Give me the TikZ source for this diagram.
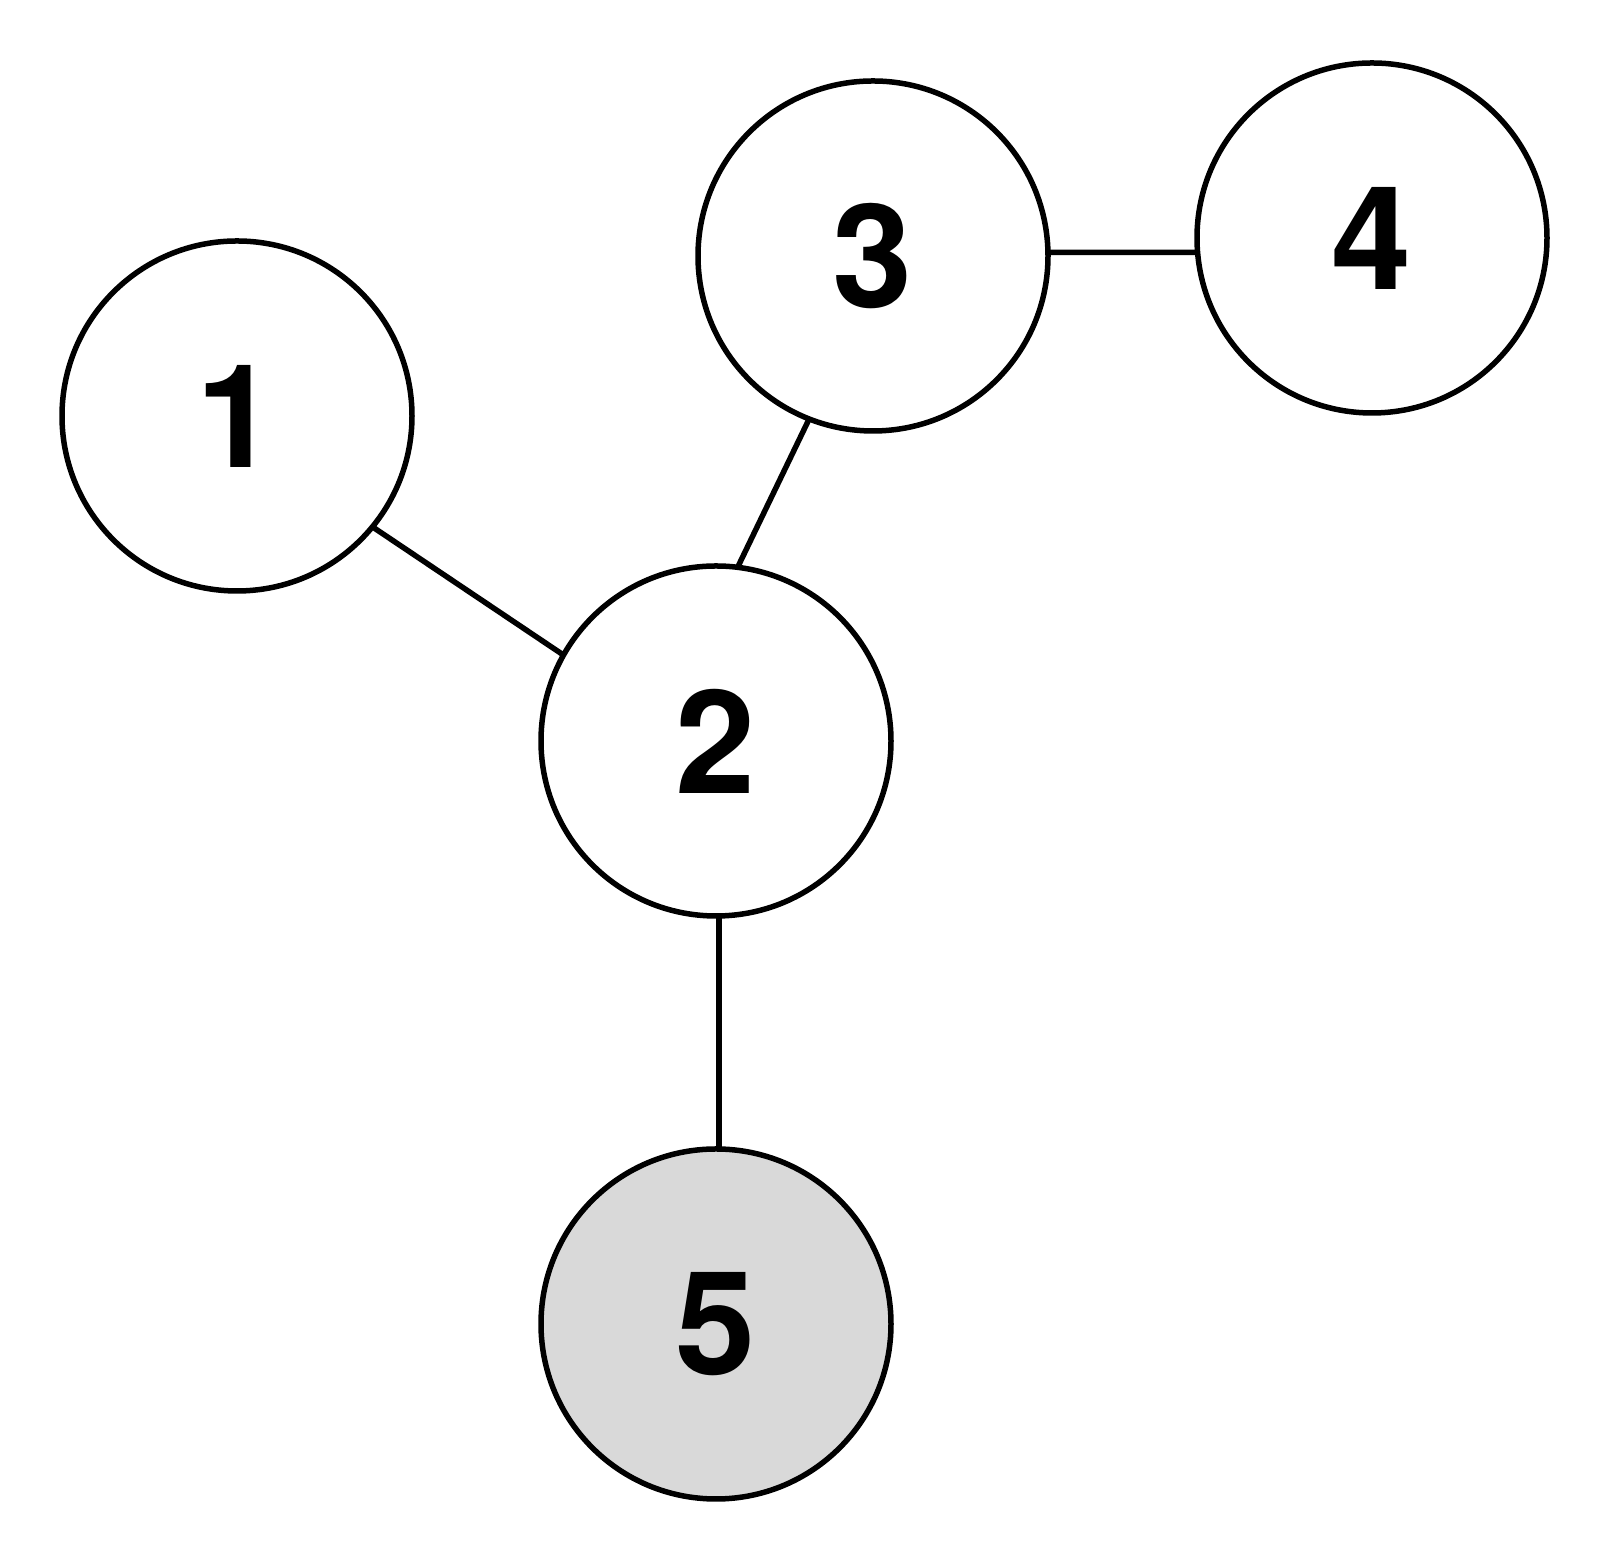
\documentclass[tikz,border=0pt]{standalone}
\usepackage{fontspec}
\setmainfont{TeX Gyre Heros}
\usetikzlibrary{calc}
\definecolor{nodegray}{HTML}{D9D9D9}
\begin{document}
\begin{tikzpicture}[x=1pt,y=1pt,
  vertex/.style={circle,draw=black,line width=5.5pt,minimum size=350pt,inner sep=0pt,outer sep=0pt,fill=white,
    font=\fontsize{144}{144}\selectfont\bfseries},
  edge/.style={line width=5.5pt,draw=black}]
\useasboundingbox (0,0) rectangle (1610,1562);
% y-up coordinates: y = 1562 - (top-down y)
\node[vertex] (n1) at (237,1146) {1};
\node[vertex] (n2) at (716,821) {2};
\node[vertex] (n3) at (873,1306) {3};
\node[vertex] (n4) at (1372,1324) {4};
\node[vertex,fill=nodegray] (n5) at (716,238) {5};
\draw[edge] ($(n1.center)+(-39.3:175)$) -- ($(n2.center)+(150.6:175)$);
\draw[edge] ($(n2.center)+(82.9:175)$) -- ($(n3.center)+(248.6:175)$);
\draw[edge] ($(n3.center)+(1.2:175)$) -- ($(n4.center)+(184.7:175)$);
\draw[edge] ($(n2.center)+(271:175)$) -- ($(n5.center)+(89:175)$);
\end{tikzpicture}
\end{document}
